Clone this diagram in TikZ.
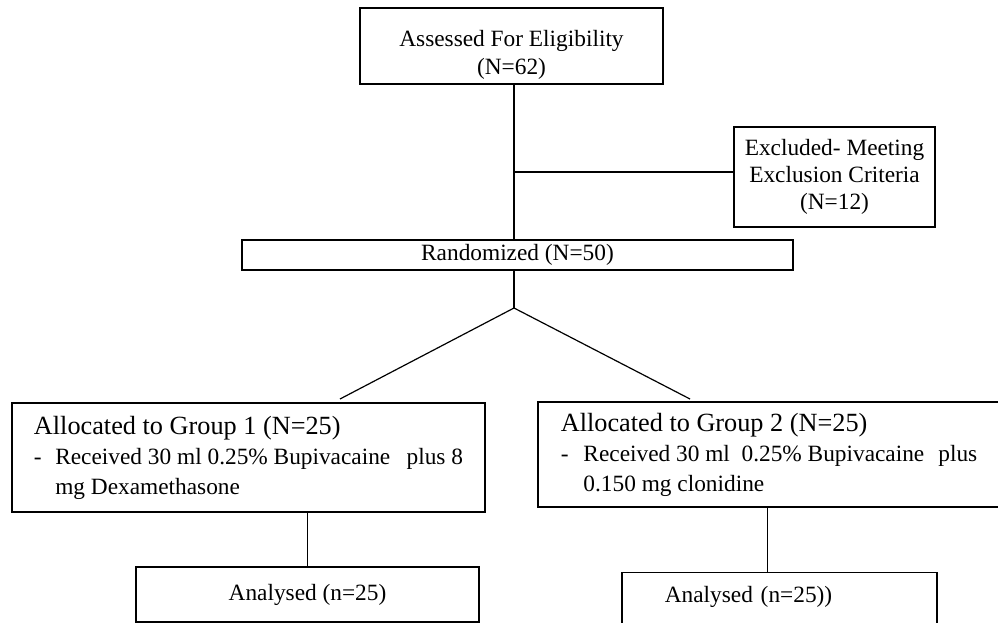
\documentclass[tikz,border=0pt]{standalone}
\usepackage{fontspec}
\setmainfont{Liberation Serif}
\usetikzlibrary{positioning, calc}

\begin{document}
\begin{tikzpicture}[
    x=0.75pt, y=-0.75pt,
    box/.style={draw, line width=1.1pt, fill=white, inner sep=0pt, align=center, font=\fontsize{17.5}{20.5}\selectfont},
    grp_box/.style={box, align=left, font=\fontsize{17.5}{22.5}\selectfont},
    link/.style={line width=0.9pt}
]
    \useasboundingbox (0,0) rectangle (998,623);

    % Screening
    \node[box, minimum width=227pt, minimum height=57pt, text height=46pt] (assess) at (511.5,46) {Assessed For Eligibility\\(N=62)};
    \node[box, minimum width=151pt, minimum height=75pt] (excl) at (834.5,177) {Excluded- Meeting\\Exclusion Criteria\\(N=12)};
    \node[box, minimum width=413pt, minimum height=22.5pt] (rand) at (517.5,255) {Randomized (N=50)};

    \coordinate (fork) at (514,172);
    \coordinate (split) at (514,308);
    \coordinate (endA) at (340,399);
    \coordinate (endB) at (690,399);

    \draw[link] (assess.south -| split) -- (rand.north -| split);
    \draw[link] (fork) -- (fork -| excl.west);
    \draw[link] (rand.south -| split) -- (split);
    \draw[link] (split) -- (endA);
    \draw[link] (split) -- (endB);

    % Allocation
    \node[grp_box, minimum width=354.75pt, minimum height=81.75pt] (grpA) at (248.5,457.5) {%
        {\fontsize{19.7}{22}\selectfont Allocated to Group 1 (N=25)}\\
        \makebox[16pt][l]{-}Received 30 ml 0.25\% Bupivacaine\hspace{0.45em} plus 8\\
        \hspace*{16pt}mg Dexamethasone};
    \node[grp_box, minimum width=346.5pt, minimum height=78.75pt] (grpB) at (769,454.5) {%
        {\fontsize{19.7}{22}\selectfont Allocated to Group 2 (N=25)}\\
        \makebox[17pt][l]{-}Received 30 ml\hspace{0.25em} 0.25\% Bupivacaine\hspace{0.35em} plus\\
        \hspace*{17pt}0.150 mg clonidine};

    % Analysis
    \node[box, minimum width=257.25pt, minimum height=41.25pt] (anA) at (307.5,594.5) {Analysed (n=25)};
    \node[box, anchor=north, align=left, text width=172pt, inner xsep=32pt, inner ysep=10pt, text depth=45pt] (anB) at (779.5,572) {Analysed (n=25))};

    \draw[link] (grpA.south -| anA.north) -- (anA.north);
    \draw[link] ([xshift=-9pt]anB.north) -- ([xshift=-9pt]anB.north |- grpB.south);

\end{tikzpicture}
\end{document}
